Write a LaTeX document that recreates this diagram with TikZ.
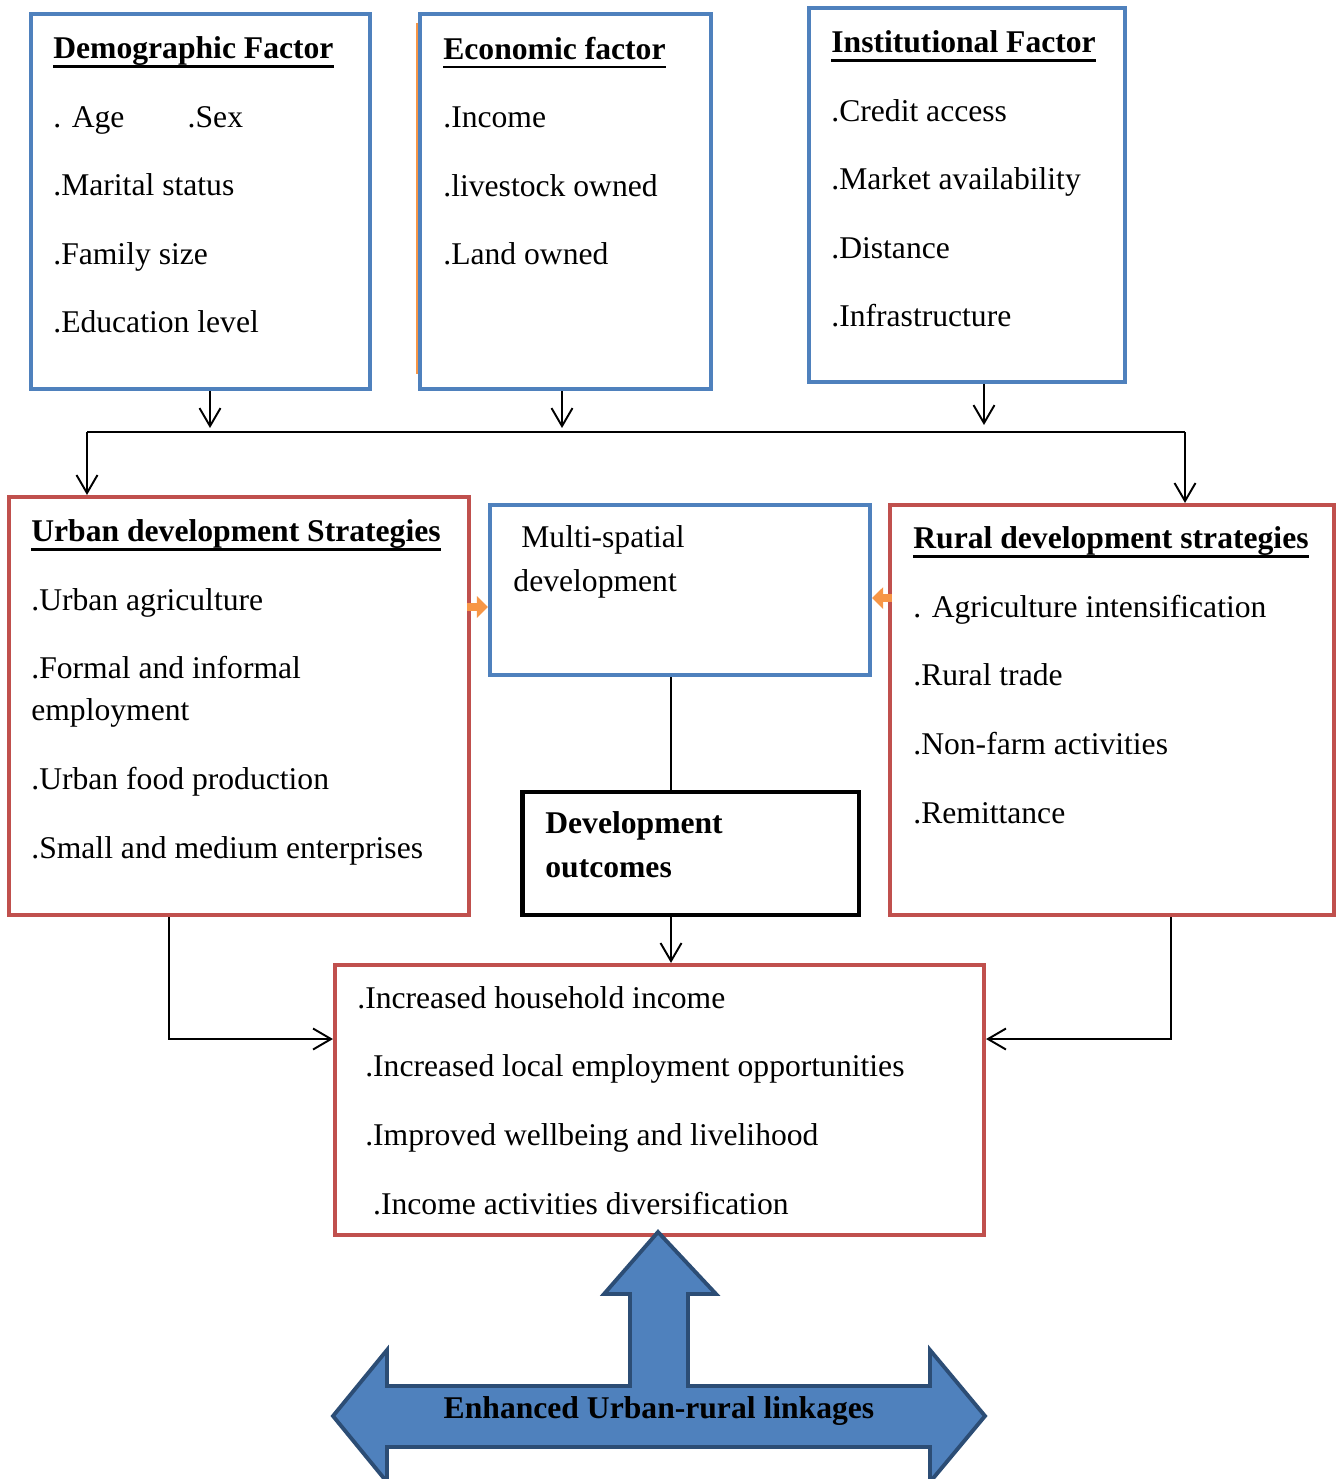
\documentclass[tikz,border=0pt]{standalone}
\usepackage{fontspec}
\setmainfont{Liberation Serif}
\usepackage{xcolor}
\usepackage{tikz}
\usetikzlibrary{positioning,calc,arrows.meta}

\definecolor{boxblue}{HTML}{4F81BD}
\definecolor{boxred}{HTML}{C0504D}
\definecolor{arrorange}{HTML}{F79646}
\definecolor{arrdark}{HTML}{2C4D75}

% bold title with a heavy underline
\newcommand{\ultitle}[1]{\sbox0{\bfseries #1}\rlap{\rule[-5pt]{\wd0}{1.5pt}}\usebox0}

\begin{document}
\begin{tikzpicture}[x=0.02cm, y=-0.02cm,
		bluebox/.style={draw=boxblue, line width=2.4pt},
		redbox/.style={draw=boxred, line width=2.4pt},
		txt/.style={anchor=base west, inner sep=0pt, align=left, font=\fontsize{18}{39}\selectfont},
		conn/.style={line width=1.1pt},
		vtip/.style={-{Straight Barb[length=0.36cm,width=0.42cm]}},
		orarrow/.style={draw=arrorange, line width=0.15cm, -{Triangle[length=0.22cm,width=0.42cm]}}]
		\useasboundingbox (0,0) rectangle (1336,1479);
		
		% factor boxes (text nodes sit on the baseline of their last line)
		\node[bluebox, minimum width=6.78cm, minimum height=7.5cm] (dem) at (200.5,201.5) {};
		\node[txt] (demtxt) at (53,333) {\ultitle{Demographic Factor}\\. Age\hspace{36pt}.Sex\\.Marital status\\.Family size\\.Education level};
		\node[bluebox, minimum width=5.82cm, minimum height=7.5cm] (eco) at (565.5,201.5) {};
		\draw[arrorange, line width=1pt] ([xshift=-0.02cm,yshift=-0.22cm]eco.north west) -- ([xshift=-0.02cm,yshift=0.34cm]eco.south west);
		\node[txt] (ecotxt) at (443,265) {\ultitle{Economic factor}\\.Income\\.livestock owned\\.Land owned};
		\node[bluebox, minimum width=6.32cm, minimum height=7.48cm] (inst) at (967,195) {};
		\node[txt] (insttxt) at (831,327) {\ultitle{Institutional Factor}\\.Credit access\\.Market availability\\.Distance\\.Infrastructure};
		
		% strategy boxes
		\node[redbox, minimum width=9.2cm, minimum height=8.36cm] (urb) at (239,706) {};
		\node[txt] (urbtxt) at (31,858) {\ultitle{Urban development Strategies}\\.Urban agriculture\\.Formal and informal\\[-15pt]employment\\.Urban food production\\.Small and medium enterprises};
		\node[bluebox, minimum width=7.6cm, minimum height=3.4cm] (msp) at (680,590) {};
		\node[txt] (msptxt) at (521,591) {Multi-spatial\\[-14pt]\hspace*{-4.5pt}development};
		\node[redbox, minimum width=8.88cm, minimum height=8.2cm] (rur) at (1112,710) {};
		\node[txt] (rurtxt) at (913,823) {\ultitle{Rural development strategies}\\. Agriculture intensification\\.Rural trade\\.Non-farm activities\\.Remittance};
		
		% outcomes
		\node[draw=black, line width=2.8pt, minimum width=6.74cm, minimum height=2.46cm] (dev) at (690.5,853.5) {};
		\node[txt, font=\fontsize{18}{39}\selectfont\bfseries] (devtxt) at (545,877) {Development\\[-14.5pt]outcomes};
		\node[redbox, minimum width=12.98cm, minimum height=5.4cm] (out) at (659.5,1100) {};
		\node[txt] (outtxt) at (357,1214) {.Increased household income\\\hspace*{4.5pt}.Increased local employment opportunities\\\hspace*{4.5pt}.Improved wellbeing and livelihood\\\hspace*{9pt}.Income activities diversification};
		
		% connectors
		\coordinate (demend) at (210,428);
		\coordinate (ecoend) at (562,428);
		\coordinate (instend) at (984,425);
		\coordinate (busL) at (87,432);
		\coordinate (busR) at (1185,432);
		\draw[conn, vtip] (dem.south -| demend) -- (demend);
		\draw[conn, vtip] (eco.south -| ecoend) -- (ecoend);
		\draw[conn, vtip] (inst.south -| instend) -- (instend);
		\draw[conn] (busL) -- (busR);
		\draw[conn, vtip] (busL) -- (urb.north -| busL);
		\draw[conn, vtip] (busR) -- (rur.north -| busR);
		\draw[orarrow] ([xshift=-0.08cm,yshift=1.98cm]urb.east) -- ([yshift=1.98cm]urb.east -| msp.west);
		\draw[orarrow] ([xshift=0.08cm,yshift=2.24cm]rur.west) -- ([yshift=2.24cm]rur.west -| msp.east);
		\draw[conn] ([xshift=-0.18cm]msp.south) -- ([xshift=-0.18cm]msp.south |- dev.north);
		\draw[conn, vtip] ([xshift=-0.39cm]dev.south) -- ([xshift=-0.39cm]dev.south |- out.north);
		\draw[conn, vtip] ([xshift=-1.4cm]urb.south) |- ([yshift=1.22cm]out.west);
		\draw[conn, vtip] ([xshift=1.18cm]rur.south) |- ([yshift=1.22cm]out.east);
		
		% linkage arrow
		\filldraw[fill=boxblue, draw=arrdark, line width=2.2pt] (658,1232) -- (716,1294) -- (688,1294) -- (688,1386) -- (930,1386) -- (930,1350) -- (985,1416) -- (930,1482) -- (930,1447) -- (387,1447) -- (387,1482) -- (333,1416) -- (387,1350) -- (387,1386) -- (630,1386) -- (630,1294) -- (604,1294) -- cycle;
		\node[font=\fontsize{18}{22}\selectfont\bfseries] (link) at (659,1411) {Enhanced Urban-rural linkages};
	\end{tikzpicture}
\end{document}
